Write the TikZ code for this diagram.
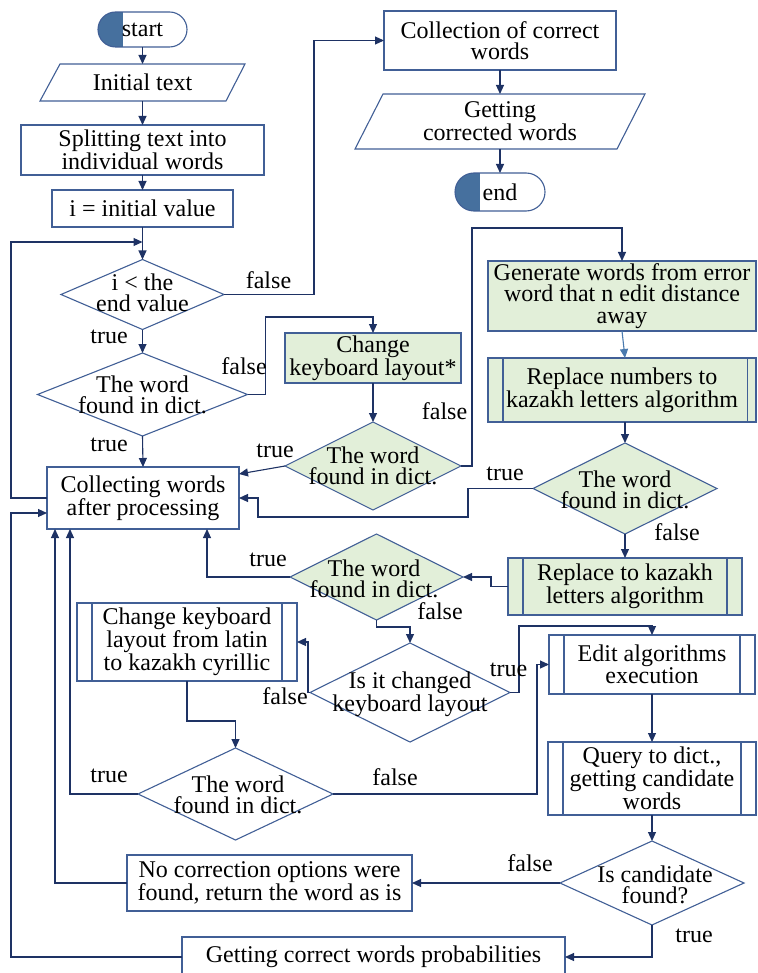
\documentclass[tikz,border=0pt]{standalone}
\usepackage{fontspec}
\setmainfont{Liberation Serif}
\usetikzlibrary{shapes.geometric,shapes.misc,arrows.meta,calc}
\definecolor{bordercol}{HTML}{415F96}
\definecolor{linecol}{HTML}{1E3264}
\definecolor{greenfill}{HTML}{E2EFD9}
\definecolor{termfill}{HTML}{46709E}
\definecolor{lightarrow}{HTML}{4A7AAE}
\newcommand\flowfont{\fontsize{24}{21.5}\selectfont}
\tikzset{
  every node/.style={font=\flowfont, text=black},
  base/.style={draw=bordercol, line width=1.1pt, inner sep=2pt, outer sep=0pt, align=center},
  proc/.style={base, rectangle, fill=white},
  gproc/.style={proc, fill=greenfill},
  sub/.style={path picture={\draw[bordercol, line width=1.1pt]
      ([xshift=15pt]path picture bounding box.north west) -- ([xshift=15pt]path picture bounding box.south west)
      ([xshift=-#1]path picture bounding box.north east) -- ([xshift=-#1]path picture bounding box.south east);}},
  sub/.default=15pt,
  term/.style={base, rounded rectangle, fill=white,
      path picture={\fill[termfill] (path picture bounding box.south west) rectangle ([xshift=25pt]path picture bounding box.north west);}},
  iobox/.style={rectangle, inner sep=2pt, outer sep=0pt, align=center},
  ioline/.style={draw=bordercol, line width=1.1pt, fill=white},
  dia/.style={draw=bordercol, line width=1.1pt, diamond, inner sep=0pt, outer sep=0pt, fill=white},
  gdia/.style={dia, fill=greenfill},
  dtext/.style={align=center, inner sep=0pt},
  lbl/.style={inner sep=0pt, anchor=base},
  conn/.style={draw=linecol, line width=1.1pt, -{Triangle[length=9pt,width=8pt]}},
}
\begin{document}
\begin{tikzpicture}[x=1pt,y=-1pt]
\useasboundingbox (0,0) rectangle (757,973);

% left column
\node[term, minimum width=93, minimum height=35] (start) at (142.5,29.5) {start};
\path[ioline] (20+40,64) -- (245,64) -- (226,101) -- (40,101) -- cycle;
\node[iobox, minimum width=205, minimum height=37] (init) at (142.5,82.5) {Initial text};
\node[proc, minimum width=243, minimum height=50] (split) at (142.5,150) {Splitting text into\\individual words};
\node[proc, minimum width=181, minimum height=37] (ival) at (142.5,208.5) {i = initial value};
\node[dia, minimum width=163, minimum height=70] (d1) at (142.5,294.5) {};
\node[dtext] (d1t) at (142.5,293) {i < the\\end value};
\node[dia, minimum width=210, minimum height=83] (d2) at (142.5,394.5) {};
\node[dtext] (d2t) at (142.5,395) {The word\\found in dict.};
\node[proc, minimum width=192, minimum height=62] (collect) at (143,498) {Collecting words\\after processing};

% top right
\node[proc, minimum width=232, minimum height=59] (colln) at (500,40.5) {Collection of correct\\words};
\path[ioline] (383,94) -- (645,94) -- (617,149) -- (355,149) -- cycle;
\node[iobox, minimum width=290, minimum height=55] (getc) at (500,121.5) {Getting\\corrected words};
\node[term, minimum width=94, minimum height=38] (endn) at (500,192) {end};

% middle
\node[gproc, minimum width=176, minimum height=50] (kb) at (373,358) {Change\\keyboard layout*};
\node[gdia, minimum width=176, minimum height=88] (g2) at (373,466) {};
\node[dtext] (g2t) at (373,466) {The word\\found in dict.};

\node[gproc, minimum width=268, minimum height=70] (gen) at (622,296) {Generate words from error\\word that n edit distance\\away};
\node[gproc, sub=8.5pt, minimum width=268, minimum height=64] (rn) at (622,390) {Replace numbers to\\kazakh letters algorithm};
\node[gdia, minimum width=184, minimum height=91] (g3) at (625,488.5) {};
\node[dtext] (g3t) at (625,490) {The word\\found in dict.};
\node[gproc, sub, minimum width=234, minimum height=57] (rk) at (625,586.5) {Replace to kazakh\\letters algorithm};
\node[gdia, minimum width=173, minimum height=86] (g4) at (376.5,577) {};
\node[dtext] (g4t) at (374,579) {The word\\found in dict.};

\node[proc, sub, minimum width=220, minimum height=78] (ksub) at (187,642) {Change keyboard\\layout from latin\\to kazakh cyrillic};
\node[dia, minimum width=200, minimum height=99] (ic) at (410,692.5) {};
\node[dtext] (ict) at (410,694) {Is it changed\\keyboard layout};
\node[dia, minimum width=195, minimum height=92] (d5) at (235.5,794) {};
\node[dtext] (d5t) at (238,795) {The word\\found in dict.};

\node[proc, sub, minimum width=206, minimum height=59] (edit) at (652,664.5) {Edit algorithms\\execution};
\node[proc, sub, minimum width=208, minimum height=73] (query) at (652,778.5) {Query to dict.,\\getting candidate\\words};
\node[dia, minimum width=184, minimum height=84] (cand) at (652,883) {};
\node[dtext] (candt) at (655,885) {Is candidate\\found?};
\node[proc, minimum width=285, minimum height=56] (nocorr) at (269.5,883) {No correction options were\\found, return the word as is};
\node[proc, minimum width=383, minimum height=40] (prob) at (373.5,957) {Getting correct words probabilities};

% connectors
\draw[conn] (start.south) -- (init.north);
\draw[conn] (init.south) -- (split.north);
\draw[conn] (split.south) -- (ival.north);
\draw[conn] (ival.south) -- (d1.north);
\draw[conn] (d1.south) -- (d2.north);
\draw[conn] (d2.south) -- (collect.north);
\draw[conn] (d1.east) -- ++(90,0) |- (colln.west);
\draw[conn] (colln.south) -- (getc.north);
\draw[conn] (getc.south) -- (endn.north);
\draw[conn] (d2.east) -- ++(18,0) |- ([yshift=16pt]kb.north) -- (kb.north);
\draw[conn] (kb.south) -- (g2.north);
\draw[conn] (g2.west) -- ([yshift=24pt]collect.east);
\draw[conn] (g2.east) -- ++(11,0) |- ([yshift=33pt]gen.north) -- (gen.north);
\draw[conn, draw=lightarrow] (gen.south) -- (g3.north |- rn.north);
\draw[conn] (g3.north |- rn.south) -- (g3.north);
\draw[conn] (g3.west) -- ++(-65,0) |- ([xshift=19pt,yshift=-19pt]collect.east) -- ([xshift=19pt]collect.east) -- (collect.east);
\draw[conn] (g3.south) -- (rk.north);
\draw[conn] (rk.west) -- ++(-17,0) |- (g4.east);
\draw[conn] (g4.west) -| ([xshift=64pt]collect.south);
\draw[conn] (g4.south) -- ++(0,7) -| (ic.north);
\draw[conn] (ic.west) -- ++(-2,0) |- (ksub.east);
\draw[conn] (ic.east) -- ++(9,0) |- ([yshift=9pt]edit.north) -- (edit.north);
\draw[conn] (ksub.south) -- ++(0,40) -| (d5.north);
\draw[conn] (d5.west) -| ([xshift=-73pt]collect.south);
\draw[conn] (d5.east) -- ++(204,0) |- (edit.west);
\draw[conn] (edit.south) -- (query.north);
\draw[conn] (query.south) -- (cand.north);
\draw[conn] (cand.west) -- (nocorr.east);
\draw[conn] (cand.south) |- (prob.east);
\draw[conn] (nocorr.west) -| ([xshift=-88pt]collect.south);
\draw[conn] (prob.west) -| ([xshift=-36pt,yshift=-15pt]collect.west) -- ([yshift=-15pt]collect.west);
\coordinate (join) at (142.5,242);
\draw[conn] (collect.west) -- ++(-36,0) |- (join);

% labels
\node[lbl] (l1) at (268.5,288) {false};
\node[lbl] (l2) at (109,343) {true};
\node[lbl] (l3) at (244,374) {false};
\node[lbl] (l4) at (109,451) {true};
\node[lbl] (l5) at (275,457) {true};
\node[lbl] (l6) at (444.5,419) {false};
\node[lbl] (l7) at (505,480) {true};
\node[lbl] (l8) at (677,540) {false};
\node[lbl] (l9) at (268,566) {true};
\node[lbl] (l10) at (440,619) {false};
\node[lbl] (l11) at (285,704) {false};
\node[lbl] (l12) at (508.5,676) {true};
\node[lbl] (l13) at (109,782) {true};
\node[lbl] (l14) at (395,785) {false};
\node[lbl] (l15) at (530,871) {false};
\node[lbl] (l16) at (694,942) {true};
\end{tikzpicture}
\end{document}
